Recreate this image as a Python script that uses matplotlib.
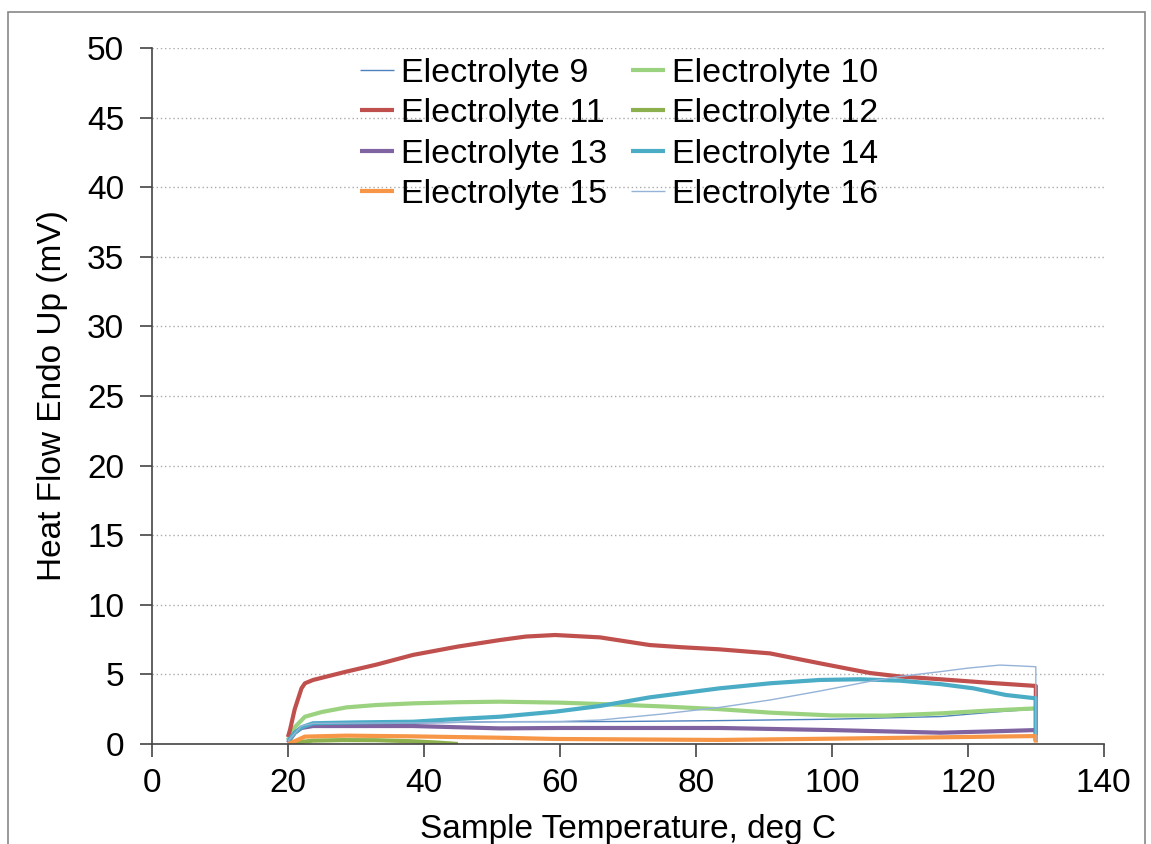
import matplotlib.pyplot as plt
from matplotlib.patches import Rectangle

plt.rcParams['font.family'] = ['Liberation Sans', 'DejaVu Sans']

# Temperature (deg C) and heat flow (mW)
t9 = [20, 22, 23.7, 30, 38, 51, 60, 70, 83.5, 100, 116, 124, 130, 130]
e9 = [0.2, 1.2, 1.42, 1.45, 1.5, 1.6, 1.6, 1.62, 1.68, 1.78, 1.97, 2.3, 2.5, 0.2]

t10 = [20, 21, 22.5, 25, 28.6, 33, 38.4, 45, 51.2, 60, 66, 75, 83.5, 91, 100, 108, 116, 123, 130]
e10 = [0.3, 1.2, 1.96, 2.3, 2.63, 2.8, 2.92, 3.0, 3.04, 2.97, 2.87, 2.7, 2.5, 2.25, 2.05, 2.04, 2.2, 2.4, 2.56]

t11 = [20, 20.3, 21, 22, 22.5, 23.7, 28.6, 33, 38.4, 45, 51.2, 55, 59.3, 65.9, 73.2, 78, 83.5,
       90.9, 98.2, 105.6, 110, 116, 123, 130, 130]
e11 = [0.5, 1.0, 2.5, 4.0, 4.36, 4.6, 5.2, 5.7, 6.4, 7.0, 7.47, 7.72, 7.83, 7.66, 7.11, 6.95, 6.8,
       6.51, 5.8, 5.1, 4.85, 4.65, 4.4, 4.17, 0.3]

t12 = [20, 21, 23.7, 28, 33, 38, 42, 45]
e12 = [0.0, 0.1, 0.24, 0.28, 0.27, 0.2, 0.1, 0.0]

t13 = [20, 21, 22, 23.7, 30, 38.4, 51.2, 60, 70, 83.5, 100, 116, 123, 130, 130]
e13 = [0.1, 0.8, 1.15, 1.29, 1.29, 1.29, 1.12, 1.15, 1.15, 1.15, 1.0, 0.81, 0.9, 1.0, 0.2]

t14 = [20, 21, 22, 23.7, 30, 38.4, 45, 51.2, 59.3, 65.9, 73.2, 83.5, 90.9, 98.2, 104.1,
       110, 116, 120.8, 125.6, 130, 130]
e14 = [0.2, 0.8, 1.2, 1.49, 1.55, 1.6, 1.8, 1.96, 2.32, 2.73, 3.35, 4.0, 4.36, 4.6, 4.65,
       4.55, 4.3, 4.0, 3.52, 3.28, 0.2]

t15 = [20, 21, 22.5, 28.6, 38, 51.2, 59.3, 70, 83.5, 100, 116, 130, 130]
e15 = [0.0, 0.2, 0.53, 0.6, 0.55, 0.45, 0.36, 0.33, 0.29, 0.38, 0.48, 0.57, 0.1]

t16 = [20, 22, 23.7, 30, 40, 51, 60, 65.9, 75, 83.5, 90.9, 98.2, 105.6, 110, 116, 120,
       124.7, 128, 130, 130]
e16 = [0.2, 1.3, 1.48, 1.5, 1.52, 1.6, 1.62, 1.72, 2.15, 2.63, 3.16, 3.8, 4.5, 4.85, 5.2, 5.45,
       5.67, 5.6, 5.55, 0.2]

series = [
    ("Electrolyte 9", t9, e9, "#4F81BD", 1.0),
    ("Electrolyte 10", t10, e10, "#9BD27F", 3.0),
    ("Electrolyte 11", t11, e11, "#C0504D", 3.0),
    ("Electrolyte 12", t12, e12, "#8DB04F", 3.0),
    ("Electrolyte 13", t13, e13, "#8064A2", 3.0),
    ("Electrolyte 14", t14, e14, "#4BACC6", 3.0),
    ("Electrolyte 15", t15, e15, "#F79646", 3.0),
    ("Electrolyte 16", t16, e16, "#95B3D7", 1.0),
]

fig = plt.figure(figsize=(11.51, 8.44), dpi=100)
fig.patches.append(Rectangle((8 / 1151, -0.05), 1137 / 1151, 1.05 - 12 / 844,
                             transform=fig.transFigure, fill=False,
                             edgecolor="#888888", linewidth=1.2))
ax = fig.add_axes([0.132, 0.1185, 0.827, 0.8245])

lines = {}
for name, t, e, color, lw in series:
    lines[name], = ax.plot(t, e, color=color, linewidth=lw, label=name,
                           solid_joinstyle="round", solid_capstyle="butt")

ax.set_xlim(0, 140)
ax.set_ylim(0, 50)
ax.set_xticks(range(0, 141, 20))
ax.set_yticks(range(0, 51, 5))
ax.yaxis.grid(True, linestyle=(0, (1, 2)), color="#AAAAAA", linewidth=1)
ax.set_axisbelow(True)
for s in ["top", "right"]:
    ax.spines[s].set_visible(False)
for s in ["left", "bottom"]:
    ax.spines[s].set_color("#444444")
    ax.spines[s].set_linewidth(1.2)
ax.tick_params(axis="both", direction="out", length=9, width=1.2,
               color="#444444", labelsize=24)
ax.tick_params(axis="y", pad=11)
ax.tick_params(axis="x", pad=8)

ax.set_xlabel("Sample Temperature, deg C", fontsize=24, labelpad=11)
ax.set_ylabel("Heat Flow Endo Up (mV)", fontsize=24, labelpad=13.5)

order = ["Electrolyte 9", "Electrolyte 11", "Electrolyte 13", "Electrolyte 15",
         "Electrolyte 10", "Electrolyte 12", "Electrolyte 14", "Electrolyte 16"]
ax.legend([lines[n] for n in order], order, ncol=2, frameon=False,
          fontsize=24.5, loc="upper center", bbox_to_anchor=(0.491, 1.006),
          handlelength=1.0, handletextpad=0.2, columnspacing=0.7,
          labelspacing=0.28, borderaxespad=0)

fig.savefig("out.png", dpi=100)
